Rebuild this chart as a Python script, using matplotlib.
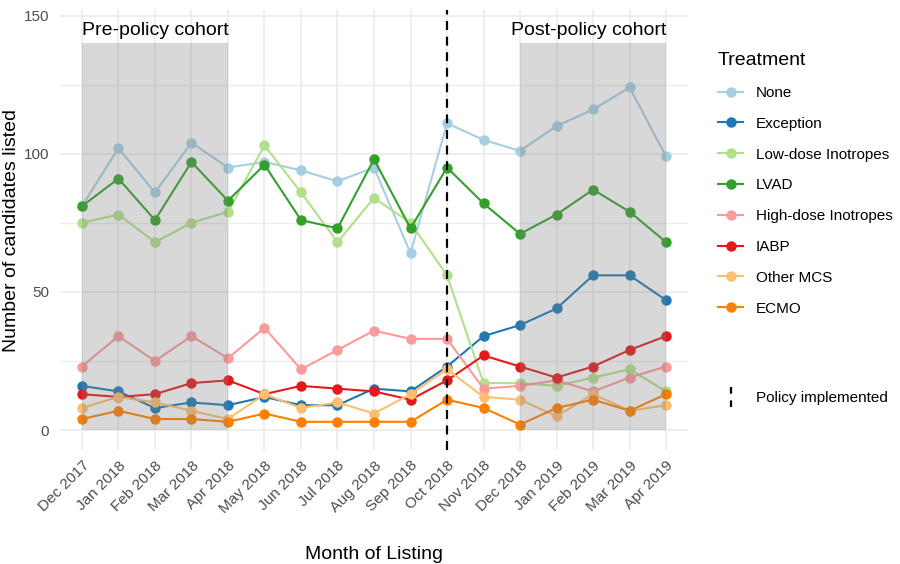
import matplotlib
matplotlib.use('Agg')
from matplotlib import pyplot as plt
from matplotlib.lines import Line2D
from matplotlib.legend_handler import HandlerBase

plt.rcParams['font.family'] = ['Liberation Sans', 'DejaVu Sans']

# Datos
meses = ['Dec 2017', 'Jan 2018', 'Feb 2018', 'Mar 2018', 'Apr 2018', 'May 2018',
         'Jun 2018', 'Jul 2018', 'Aug 2018', 'Sep 2018', 'Oct 2018', 'Nov 2018',
         'Dec 2018', 'Jan 2019', 'Feb 2019', 'Mar 2019', 'Apr 2019']

tratamientos = ['None', 'Exception', 'Low-dose Inotropes', 'LVAD',
                'High-dose Inotropes', 'IABP', 'Other MCS', 'ECMO']
colores = ['#a6cee3', '#1f78b4', '#b2df8a', '#33a02c',
           '#fb9a99', '#e31a1c', '#fdbf6f', '#ff7f00']

none = [81, 102, 86, 104, 95, 97, 94, 90, 95, 64, 111, 105, 101, 110, 116, 124, 99]
exception = [16, 14, 8, 10, 9, 12, 9, 9, 15, 14, 23, 34, 38, 44, 56, 56, 47]
low_dose = [75, 78, 68, 75, 79, 103, 86, 68, 84, 75, 56, 17, 17, 16, 19, 22, 14]
lvad = [81, 91, 76, 97, 83, 96, 76, 73, 98, 73, 95, 82, 71, 78, 87, 79, 68]
high_dose = [23, 34, 25, 34, 26, 37, 22, 29, 36, 33, 33, 15, 16, 18, 14, 19, 23]
iabp = [13, 12, 13, 17, 18, 13, 16, 15, 14, 11, 18, 27, 23, 19, 23, 29, 34]
other_mcs = [8, 12, 10, 7, 4, 13, 8, 10, 6, 13, 22, 12, 11, 5, 13, 7, 9]
ecmo = [4, 7, 4, 4, 3, 6, 3, 3, 3, 3, 11, 8, 2, 8, 11, 7, 13]

series = [none, exception, low_dose, lvad, high_dose, iabp, other_mcs, ecmo]

pre_inicio, pre_fin = 'Dec 2017', 'Apr 2018'
post_inicio, post_fin = 'Dec 2018', 'Apr 2019'
mes_politica = 'Oct 2018'
altura_cohorte = 140

x = list(range(len(meses)))

fig = plt.figure(figsize=(9, 5.64), dpi=100)
ax = fig.add_axes([60 / 900, 114 / 564, 628 / 900, 440 / 564])

# Lineas de cada tratamiento
for nombre, valores, color in zip(tratamientos, series, colores):
    ax.plot(x, valores, color=color, lw=1.5, marker='o', ms=6.5,
            label=nombre, zorder=2)

# Zonas sombreadas de las cohortes (encima de las lineas, como en ggplot)
i0, i1 = meses.index(pre_inicio), meses.index(pre_fin)
ax.fill_between([i0, i1], 0, altura_cohorte, color='#7f7f7f', alpha=0.3,
                lw=0, zorder=3)
j0, j1 = meses.index(post_inicio), meses.index(post_fin)
ax.fill_between([j0, j1], 0, altura_cohorte, color='#7f7f7f', alpha=0.3,
                lw=0, zorder=3)
ax.text(i0, altura_cohorte + 1.5, 'Pre-policy cohort', ha='left', va='bottom',
        fontsize=14, zorder=4)
ax.text(j1, altura_cohorte + 1.5, 'Post-policy cohort', ha='right', va='bottom',
        fontsize=14, zorder=4)

# Linea de la politica
ax.axvline(meses.index(mes_politica), color='black', ls=(0, (4, 3)), lw=1.6,
           zorder=5)

ax.set_xlim(-0.6, len(meses) - 0.4)
ax.set_ylim(-7.2, 152)
ax.set_yticks([0, 50, 100, 150])
ax.set_yticks([25, 75, 125], minor=True)
ax.set_xticks(x)
ax.set_xticklabels(meses, rotation=45, ha='right', va='top',
                   rotation_mode='anchor')
ax.tick_params(axis='both', which='both', length=0, labelsize=11,
               labelcolor='#4d4d4d')
ax.tick_params(axis='x', pad=6)
ax.tick_params(axis='y', pad=8)
ax.grid(True, which='major', color='#ebebeb', lw=1.2)
ax.grid(True, which='minor', axis='y', color='#ebebeb', lw=1.0)
ax.set_axisbelow(True)
for s in ax.spines.values():
    s.set_visible(False)

ax.set_xlabel('Month of Listing', fontsize=14, labelpad=22)
ax.set_ylabel('Number of candidates listed', fontsize=14, va='center')
ax.yaxis.set_label_coords(-48 / 628, 0.5)

# Leyenda de tratamientos
leg = ax.legend(loc='upper left', bbox_to_anchor=(712 / 900, 1 - 46 / 564),
                bbox_transform=fig.transFigure, frameon=False, fontsize=11,
                title='Treatment', title_fontsize=14, handlelength=1.65,
                handletextpad=0.8, labelspacing=1.1, borderaxespad=0)
leg._legend_box.align = 'left'
ax.add_artist(leg)


class LineaVertical(HandlerBase):
    def create_artists(self, legend, orig_handle, xdescent, ydescent,
                       width, height, fontsize, trans):
        xc = width / 2 - xdescent
        linea = Line2D([xc, xc], [-ydescent - 0.5 * height, 1.5 * height - ydescent],
                       color='black', ls=(0, (3, 3)), lw=1.6, transform=trans)
        return [linea]


h_pol = Line2D([], [], color='black')
leg2 = ax.legend([h_pol], ['Policy implemented'], loc='center left',
                 bbox_to_anchor=(712 / 900, 1 - 398 / 564),
                 bbox_transform=fig.transFigure, frameon=False, fontsize=11,
                 handlelength=1.65, handletextpad=0.8, borderaxespad=0,
                 handler_map={Line2D: LineaVertical()})

fig.savefig('out.png', dpi=100)
